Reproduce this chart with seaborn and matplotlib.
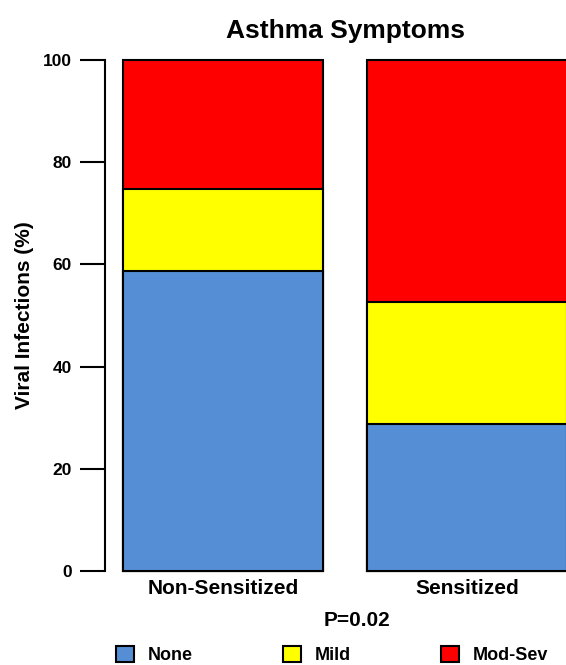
import matplotlib
matplotlib.use("Agg")
import matplotlib.pyplot as plt
import seaborn as sns
import numpy as np
from matplotlib.patches import Patch

sns.set_style("white")
plt.rcParams['font.family'] = ['Liberation Sans', 'DejaVu Sans']
plt.rcParams['font.weight'] = 'bold'
for key in ['text.color', 'axes.labelcolor', 'xtick.color', 'ytick.color', 'axes.edgecolor']:
    plt.rcParams[key] = 'black'

groups = ['Non-Sensitized', 'Sensitized']
symptoms = ['None', 'Mild', 'Mod-Sev']
none_pct = [58.7, 28.8]
mild_pct = [16.0, 23.8]
modsev_pct = [25.3, 47.4]
colors = ['#558ED5', '#FFFF00', '#FF0000']

layers = np.array([none_pct, mild_pct, modsev_pct])
cum = np.cumsum(layers, axis=0)

fig = plt.figure(figsize=(5.66, 6.65), dpi=100)
ax = fig.add_axes([105 / 566, 1 - 571 / 665, 1 - 105 / 566, (571 - 60) / 665])

# draw from top layer down so each lower layer sits on top
for i in range(len(symptoms) - 1, -1, -1):
    sns.barplot(x=groups, y=cum[i], color=colors[i], edgecolor='black',
                linewidth=1.5, width=0.82, saturation=1, ax=ax)
for p in ax.patches:
    p.set_clip_on(False)

ax.set_ylim(0, 100)
ax.set_xlim(-0.483, 1.405)
ax.set_yticks([0, 20, 40, 60, 80, 100])
sns.despine(ax=ax, top=True, right=True, bottom=True)
ax.spines['left'].set_linewidth(1.5)
ax.tick_params(axis='y', direction='out', length=18, width=1.5, pad=6,
               labelsize=12.5, left=True)
ax.tick_params(axis='x', length=0, pad=6, labelsize=15)
for lab in ax.get_xticklabels() + ax.get_yticklabels():
    lab.set_fontweight('bold')
ax.set_ylabel('Viral Infections (%)', fontsize=15, fontweight='bold')
ax.yaxis.set_label_coords(-0.155, 0.5)

fig.text(345 / 566, 1 - 31 / 665, 'Asthma Symptoms', ha='center', va='center',
         fontsize=19, fontweight='bold')
fig.text(357 / 566, 1 - 620 / 665, 'P=0.02', ha='center', va='center',
         fontsize=15, fontweight='bold')

handles = [Patch(facecolor=c, edgecolor='black', linewidth=1.5) for c in colors]
fig.legend(handles, symptoms, loc='center', bbox_to_anchor=(332 / 566, 1 - 655 / 665),
           ncol=3, frameon=False, fontsize=13, handlelength=1.0, handleheight=1.0,
           handletextpad=0.75, columnspacing=5.0, borderpad=0)

fig.savefig('out.png', dpi=100)
